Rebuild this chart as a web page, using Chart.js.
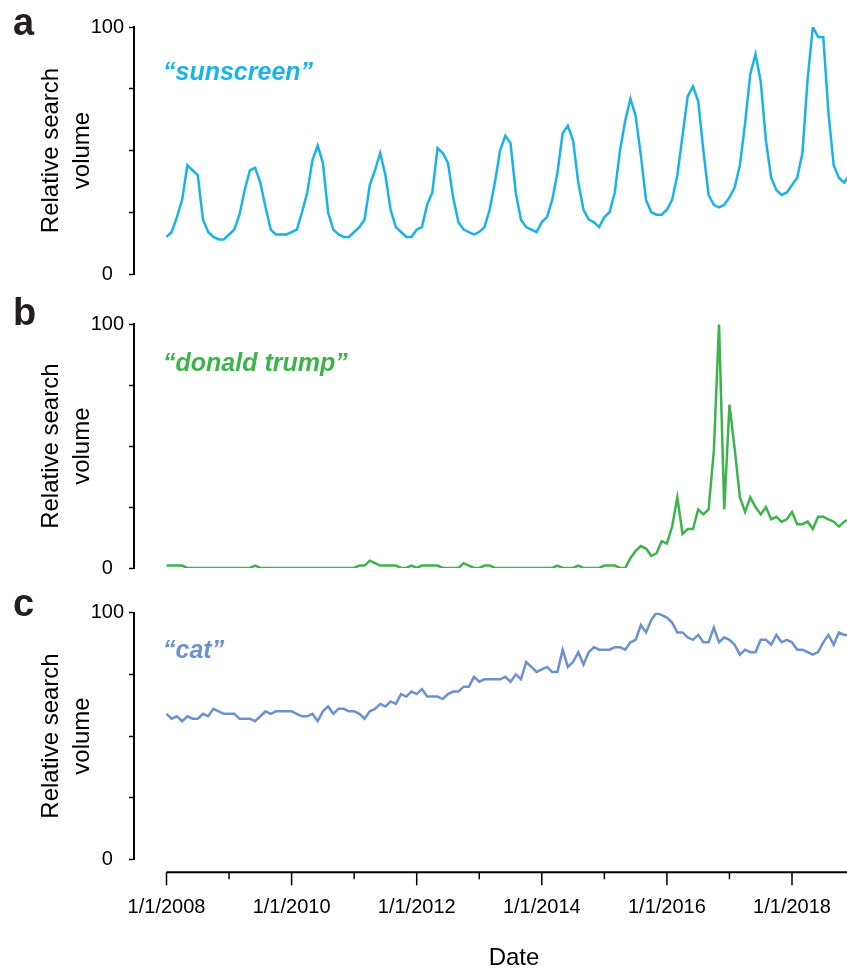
<!DOCTYPE html>
<html>
<head>
<meta charset="utf-8">
<script src="https://cdn.jsdelivr.net/npm/chart.js@4.4.1/dist/chart.umd.min.js"></script>
<style>
  body { margin: 0; background: #fff; }
  #wrap { position: relative; width: 847px; height: 968px; overflow: hidden;
          font-family: 'Liberation Sans', Arial, Helvetica, sans-serif; }
  canvas { position: absolute; left: 0; }
  .panel { position: absolute; left: 13px; font-weight: bold; font-size: 38px; line-height: 38px; color: #231f20; }
  .term { position: absolute; left: 163px; font-weight: bold; font-style: italic; font-size: 25px; line-height: 25px; white-space: nowrap; }
  #date { position: absolute; left: 464px; width: 100px; text-align: center; top: 945px; font-size: 24px; line-height: 24px; color: #000; }
</style>
</head>
<body>
<div id="wrap">
  <canvas id="chartA" width="847" height="295" style="top:0px"></canvas>
  <canvas id="chartB" width="847" height="290" style="top:295px"></canvas>
  <canvas id="chartC" width="847" height="383" style="top:585px"></canvas>
  <div class="panel" style="top:3px">a</div>
  <div class="panel" style="top:293px">b</div>
  <div class="panel" style="top:584px">c</div>
  <div class="term" style="top:59px; color:#1ab3e8">“sunscreen”</div>
  <div class="term" style="top:350px; color:#3bb54a">“donald trump”</div>
  <div class="term" style="top:637px; color:#6b92cf">“cat”</div>
  <div id="date">Date</div>
</div>
<script>
// monthly relative search volume, Jan 2008 onwards
const startYear = 2008;
const tickYears = [2008, 2009, 2010, 2011, 2012, 2013, 2014, 2015, 2016, 2017, 2018];
const tickLabels = ['1/1/2008', '', '1/1/2010', '', '1/1/2012', '', '1/1/2014', '', '1/1/2016', '', '1/1/2018'];
const yTicks = [0, 25, 50, 75, 100];

const sunscreen = [
  15, 17, 23, 30, 44, 42, 40, 22, 17, 15, 14, 14,
  16, 18, 24, 34, 42, 43, 37, 27, 18, 16, 16, 16,
  17, 18, 25, 33, 46, 52, 45, 25, 18, 16, 15, 15,
  17, 19, 22, 36, 42, 49, 40, 26, 19, 17, 15, 15,
  18, 19, 28, 33, 51, 49, 45, 31, 21, 18, 17, 16,
  17, 19, 26, 37, 50, 56, 53, 33, 22, 19, 18, 17,
  21, 23, 30, 41, 57, 60, 54, 37, 26, 22, 21, 19,
  23, 25, 33, 50, 62, 71, 64, 48, 30, 25, 24, 24,
  26, 30, 40, 56, 72, 76, 70, 50, 32, 28, 27, 28,
  31, 35, 44, 61, 81, 89, 78, 54, 39, 34, 32, 33,
  36, 39, 49, 79, 100, 96, 96, 65, 44, 39, 37, 40
];

const donaldTrump = [
  1, 1, 1, 1, 0, 0, 0, 0, 0, 0, 0, 0,
  0, 0, 0, 0, 0, 1, 0, 0, 0, 0, 0, 0,
  0, 0, 0, 0, 0, 0, 0, 0, 0, 0, 0, 0,
  0, 1, 1, 3, 2, 1, 1, 1, 1, 0, 0, 1,
  0, 1, 1, 1, 1, 0, 0, 0, 0, 2, 1, 0,
  0, 1, 1, 0, 0, 0, 0, 0, 0, 0, 0, 0,
  0, 0, 0, 1, 0, 0, 0, 1, 0, 0, 0, 0,
  1, 1, 1, 0, 0, 4, 7, 9, 8, 5, 6, 11,
  10, 17, 29, 14, 16, 16, 24, 22, 24, 48, 100, 24,
  67, 49, 29, 23, 29, 25, 22, 25, 20, 21, 19, 20,
  23, 18, 18, 19, 16, 21, 21, 20, 19, 17, 19, 20
];

const cat = [
  59, 57, 58, 56, 58, 57, 57, 59, 58, 61, 60, 59,
  59, 59, 57, 57, 57, 56, 58, 60, 59, 60, 60, 60,
  60, 59, 58, 58, 59, 56, 60, 62, 59, 61, 61, 60,
  60, 59, 57, 60, 61, 63, 62, 64, 63, 67, 66, 68,
  67, 69, 66, 66, 66, 65, 67, 68, 68, 70, 70, 74,
  72, 73, 73, 73, 73, 74, 72, 75, 73, 80, 78, 76,
  77, 78, 76, 76, 85, 78, 80, 84, 79, 84, 86, 85,
  85, 85, 86, 86, 85, 88, 89, 95, 92, 97, 100, 99,
  98, 96, 92, 92, 90, 89, 91, 88, 88, 94, 88, 90,
  89, 87, 83, 85, 84, 84, 89, 89, 87, 91, 88, 89,
  88, 85, 85, 84, 83, 84, 88, 91, 87, 92, 91, 91
];

const FONT = "'Liberation Sans', Arial, Helvetica, sans-serif";

// bottom date axis, drawn detached below the last panel
const dateAxis = {
  id: 'dateAxis',
  afterDraw(chart) {
    const { ctx, chartArea, scales: { x } } = chart;
    const y0 = chartArea.bottom + 13;
    ctx.save();
    ctx.strokeStyle = '#000';
    ctx.fillStyle = '#000';
    ctx.lineWidth = 2;
    ctx.beginPath();
    ctx.moveTo(x.getPixelForValue(0), y0);
    ctx.lineTo(chartArea.right, y0);
    ctx.stroke();
    ctx.lineWidth = 1.5;
    ctx.font = '20px ' + FONT;
    ctx.textAlign = 'center';
    ctx.textBaseline = 'alphabetic';
    tickYears.forEach((yr, i) => {
      const px = x.getPixelForValue((yr - startYear) * 12);
      const major = tickLabels[i] !== '';
      ctx.beginPath();
      ctx.moveTo(px, y0);
      ctx.lineTo(px, y0 + (major ? 13 : 7));
      ctx.stroke();
      if (major) ctx.fillText(tickLabels[i], px, y0 + 41);
    });
    ctx.restore();
  }
};

function makePanel(id, values, color, padTop, padBottom, plugins) {
  return new Chart(document.getElementById(id), {
    type: 'line',
    data: {
      datasets: [{
        data: values.map((v, i) => ({ x: i, y: v })),
        borderColor: color,
        borderWidth: 2.5,
        pointRadius: 0,
        fill: false,
        tension: 0
      }]
    },
    options: {
      responsive: false,
      devicePixelRatio: 1,
      animation: false,
      layout: { padding: { top: padTop, bottom: padBottom, left: 0, right: 0 } },
      plugins: { legend: { display: false }, tooltip: { enabled: false } },
      scales: {
        x: { type: 'linear', min: -6.235, max: 130.55, display: false },
        y: {
          min: 0,
          max: 100,
          afterFit(s) { s.width = 134; },
          afterBuildTicks(s) { s.ticks = yTicks.map(v => ({ value: v })); },
          border: { display: true, color: '#000', width: 2 },
          grid: { drawOnChartArea: false, tickLength: 5, tickColor: '#000', tickWidth: 1.5 },
          ticks: {
            callback: v => (v === 0 || v === 100) ? String(v) : '',
            crossAlign: 'center',
            padding: 5,
            color: '#000',
            autoSkip: false,
            font: { size: 20, family: FONT }
          },
          title: {
            display: true,
            text: ['Relative search', 'volume'],
            color: '#000',
            font: { size: 24, family: FONT, lineHeight: 1.3 },
            padding: { top: 35.5, bottom: 0 }
          }
        }
      }
    },
    plugins: plugins || []
  });
}

makePanel('chartA', sunscreen, '#1ab3e8', 27, 21);
makePanel('chartB', donaldTrump, '#3bb54a', 29.3, 13.3);
makePanel('chartC', cat, '#6b92cf', 27.7, 108.7, [dateAxis]);
</script>
</body>
</html>
